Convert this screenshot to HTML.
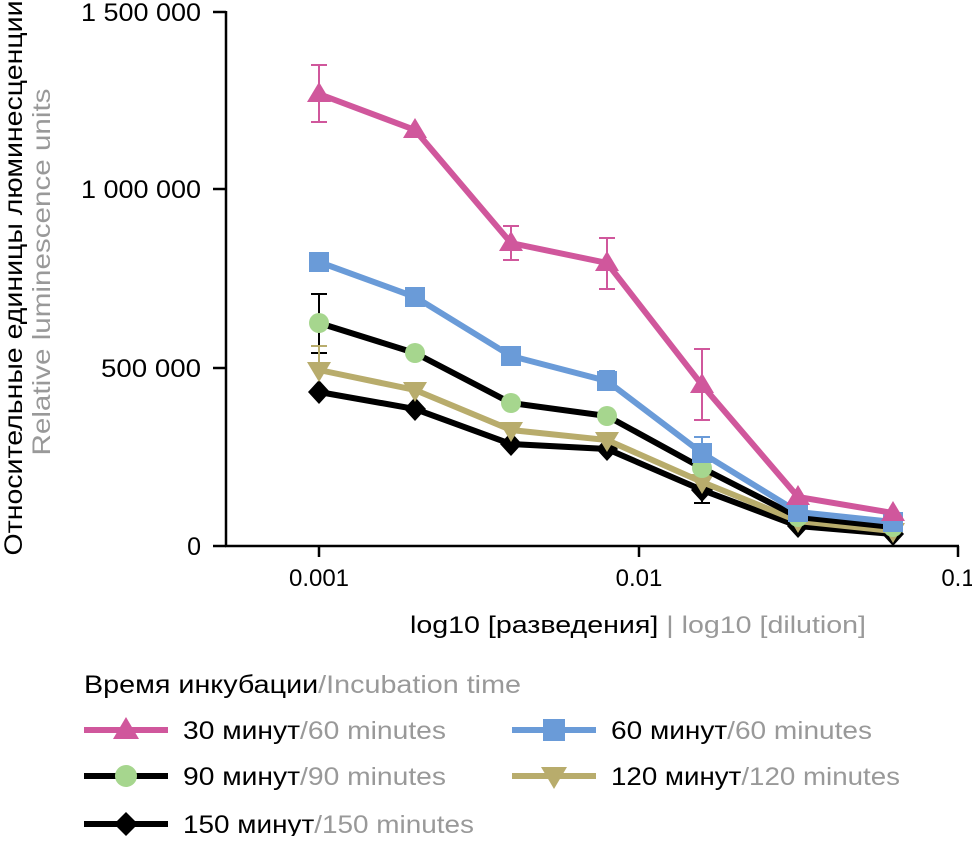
<!DOCTYPE html>
<html><head><meta charset="utf-8"><style>
body{margin:0;background:#fff}
svg text{font-family:"Liberation Sans","DejaVu Sans",sans-serif}
</style></head><body>
<svg width="972" height="836" viewBox="0 0 972 836" xmlns="http://www.w3.org/2000/svg">
<g stroke="#000" stroke-width="2.5" fill="none">
<line x1="226" y1="11" x2="226" y2="547"/>
<line x1="225" y1="546" x2="959" y2="546"/>
<line x1="213" y1="12" x2="226" y2="12"/>
<line x1="213" y1="189" x2="226" y2="189"/>
<line x1="213" y1="368" x2="226" y2="368"/>
<line x1="213" y1="546" x2="226" y2="546"/>
<line x1="319" y1="546" x2="319" y2="557"/>
<line x1="639" y1="546" x2="639" y2="557"/>
<line x1="958" y1="546" x2="958" y2="557"/>
</g>
<g font-size="25" text-anchor="end" fill="#000">
<text x="201" y="21" textLength="120" lengthAdjust="spacingAndGlyphs">1 500 000</text>
<text x="201" y="198" textLength="120" lengthAdjust="spacingAndGlyphs">1 000 000</text>
<text x="201" y="377" textLength="100" lengthAdjust="spacingAndGlyphs">500 000</text>
<text x="201" y="555">0</text>
</g>
<g font-size="24" text-anchor="middle">
<text x="319" y="586">0.001</text>
<text x="639" y="586">0.01</text>
<text x="958" y="586">0.1</text>
</g>
<text x="410" y="633" font-size="24" textLength="456" lengthAdjust="spacingAndGlyphs">log10 [разведения] <tspan fill="#999">| log10 [dilution]</tspan></text>
<text transform="translate(22,278) rotate(-90)" text-anchor="middle" font-size="25" textLength="555" lengthAdjust="spacingAndGlyphs">Относительные единицы люминесценции</text>
<text transform="translate(50,272) rotate(-90)" text-anchor="middle" font-size="25" fill="#999" textLength="367" lengthAdjust="spacingAndGlyphs">Relative luminescence units</text>

<g stroke-width="2" fill="none">
<path stroke="#000" d="M319 294V353M311 294H327M311 353H327M702 470V503M694 503H710"/>
<path stroke="#b8ac6c" d="M319 346V370M311 346H327"/>
<path stroke="#6a9bd8" d="M319 254V270M311 254H327M311 270H327M607 371V390M599 371H615M702 437V466M694 437H710"/>
<path stroke="#d0579c" d="M319 65V122M311 65H327M311 122H327M511 226V260M503 226H519M503 260H519M607 238V289M599 238H615M599 289H615M702 349V420M694 349H710M694 420H710"/>
</g>

<polyline fill="none" stroke="#000" stroke-width="6" points="319,392 415,409 511,444 607,449 702,490 798,526 893,534"/>
<g fill="#000">
<path d="M319 380l11 12-11 12-11-12z"/><path d="M415 397l11 12-11 12-11-12z"/><path d="M511 432l11 12-11 12-11-12z"/><path d="M607 437l11 12-11 12-11-12z"/><path d="M702 478l11 12-11 12-11-12z"/><path d="M798 514l11 12-11 12-11-12z"/><path d="M893 522l11 12-11 12-11-12z"/>
</g>
<polyline fill="none" stroke="#b8ac6c" stroke-width="6" points="319,370 415,390 511,430 607,440 702,482 798,521 893,531"/>
<g fill="#b8ac6c">
<path d="M307 362h24l-12 20z"/><path d="M403 382h24l-12 20z"/><path d="M499 422h24l-12 20z"/><path d="M595 432h24l-12 20z"/><path d="M690 474h24l-12 20z"/><path d="M786 513h24l-12 20z"/><path d="M881 523h24l-12 20z"/>
</g>
<polyline fill="none" stroke="#000" stroke-width="6" points="319,323 415,353 511,403 607,416 702,468 798,517 893,527"/>
<g fill="#a6d68e">
<circle cx="319" cy="323" r="10"/><circle cx="415" cy="353" r="10"/><circle cx="511" cy="403" r="10"/><circle cx="607" cy="416" r="10"/><circle cx="702" cy="468" r="10"/><circle cx="798" cy="517" r="10"/><circle cx="893" cy="527" r="10"/>
</g>
<polyline fill="none" stroke="#6a9bd8" stroke-width="6" points="319,262 415,297 511,356 607,381 702,453 798,512 893,522"/>
<g fill="#6a9bd8">
<rect x="309" y="252" width="20" height="20"/><rect x="405" y="287" width="20" height="20"/><rect x="501" y="346" width="20" height="20"/><rect x="597" y="371" width="20" height="20"/><rect x="692" y="443" width="20" height="20"/><rect x="788" y="502" width="20" height="20"/><rect x="883" y="512" width="20" height="20"/>
</g>
<polyline fill="none" stroke="#d0579c" stroke-width="6" points="319,94 415,130 511,243 607,263 702,385 798,497 893,513"/>
<g fill="#d0579c">
<path d="M319 82l12 20h-24z"/><path d="M415 118l12 20h-24z"/><path d="M511 231l12 20h-24z"/><path d="M607 251l12 20h-24z"/><path d="M702 373l12 20h-24z"/><path d="M798 485l12 20h-24z"/><path d="M893 501l12 20h-24z"/>
</g>

<text x="84" y="693" font-size="25" textLength="437" lengthAdjust="spacingAndGlyphs">Время инкубации<tspan fill="#999">/Incubation time</tspan></text>
<g stroke-width="6">
<line x1="84" y1="730" x2="168" y2="730" stroke="#d0579c"/>
<line x1="512" y1="730" x2="596" y2="730" stroke="#6a9bd8"/>
<line x1="84" y1="776" x2="168" y2="776" stroke="#000"/>
<line x1="512" y1="776" x2="596" y2="776" stroke="#b8ac6c"/>
<line x1="84" y1="824" x2="168" y2="824" stroke="#000"/>
</g>
<path d="M126 717l13 22h-26z" fill="#d0579c"/>
<rect x="543" y="719" width="22" height="22" fill="#6a9bd8"/>
<circle cx="126" cy="776" r="11" fill="#a6d68e"/>
<path d="M541 767h26l-13 22z" fill="#b8ac6c"/>
<path d="M126 812l12 12-12 12-12-12z" fill="#000"/>
<g font-size="25">
<text x="183" y="739" textLength="263" lengthAdjust="spacingAndGlyphs">30 минут<tspan fill="#999">/60 minutes</tspan></text>
<text x="611" y="739" textLength="261" lengthAdjust="spacingAndGlyphs">60 минут<tspan fill="#999">/60 minutes</tspan></text>
<text x="183" y="785" textLength="263" lengthAdjust="spacingAndGlyphs">90 минут<tspan fill="#999">/90 minutes</tspan></text>
<text x="611" y="785" textLength="289" lengthAdjust="spacingAndGlyphs">120 минут<tspan fill="#999">/120 minutes</tspan></text>
<text x="183" y="833" textLength="291" lengthAdjust="spacingAndGlyphs">150 минут<tspan fill="#999">/150 minutes</tspan></text>
</g>
</svg>
</body></html>
